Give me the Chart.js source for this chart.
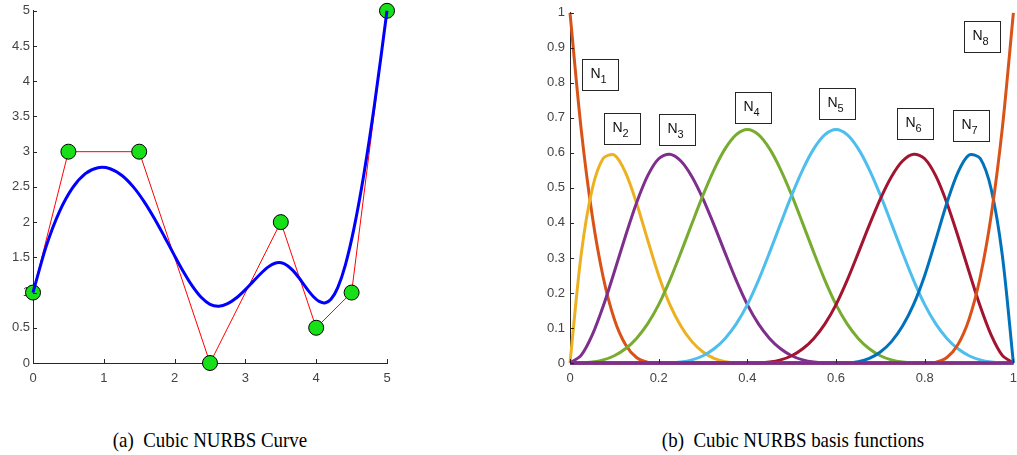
<!DOCTYPE html>
<html>
<head>
<meta charset="utf-8">
<script src="https://cdn.jsdelivr.net/npm/chart.js@4.4.0/dist/chart.umd.min.js"></script>
<style>
  html, body { margin: 0; padding: 0; width: 1017px; height: 455px; overflow: hidden; background: #fff; }
  canvas { position: absolute; top: 0; }
  .caption { position: absolute; top: 429px; font-family: "Liberation Serif", serif; font-size: 22px; line-height: 1; color: #000; white-space: nowrap; transform: translateX(-50%) scaleX(0.86); }
</style>
</head>
<body>
<canvas id="curve" width="420" height="400" style="left:0"></canvas>
<canvas id="basis" width="505" height="400" style="left:520px"></canvas>
<div class="caption" style="left:210px">(a)&nbsp; Cubic NURBS Curve</div>
<div class="caption" style="left:793px">(b)&nbsp; Cubic NURBS basis functions</div>
<script>
// control polygon
const ctrlX = [0, 0.5, 1.5, 2.5, 3.5, 4, 4.5, 5];
const ctrlY = [1, 3, 3, 0, 2, 0.5, 1, 5];

// NURBS curve samples
const curveX = [0, 0.1872, 0.3737, 0.5582, 0.7395, 0.9171, 1.0898, 1.2568, 1.4167, 1.5691, 1.7148,
  1.8547, 1.9896, 2.1206, 2.2487, 2.3749, 2.5, 2.6248, 2.7487, 2.8706, 2.9896, 3.1047, 3.2149, 3.3193,
  3.417, 3.5067, 3.5905, 3.6694, 3.7448, 3.8183, 3.8913, 3.9653, 4.0417, 4.1224, 4.2086, 4.3042,
  4.4115, 4.532, 4.6687, 4.8234, 5];
const curveY = [1, 1.659, 2.1484, 2.4854, 2.6876, 2.7722, 2.7576, 2.6612, 2.5, 2.2917, 2.0521,
  1.7969, 1.5416, 1.3021, 1.0937, 0.9323, 0.8334, 0.8073, 0.8424, 0.9227, 1.0312, 1.1516, 1.267, 1.3608,
  1.4168, 1.4224, 1.3848, 1.3149, 1.2241, 1.1233, 1.0241, 0.9376, 0.8751, 0.8524, 0.9041, 1.0704,
  1.3906, 1.9039, 2.6505, 3.669, 5];

// basis functions, sampled at u
const u = [0, 0.025, 0.05, 0.075, 0.1, 0.125, 0.15, 0.175, 0.2, 0.225, 0.25, 0.275, 0.3, 0.325, 0.35,
  0.375, 0.4, 0.425, 0.45, 0.475, 0.5, 0.525, 0.55, 0.575, 0.6, 0.625, 0.65, 0.675, 0.7, 0.725, 0.75,
  0.775, 0.8, 0.825, 0.85, 0.875, 0.9, 0.925, 0.95, 0.975, 1];
const N1 = [1, 0.6699, 0.4219, 0.2441, 0.125, 0.0527, 0.0156, 0.002, 0, 0, 0, 0, 0, 0, 0, 0, 0, 0, 0, 0,
  0, 0, 0, 0, 0, 0, 0, 0, 0, 0, 0, 0, 0, 0, 0, 0, 0, 0, 0, 0, 0];
const N2 = [0, 0.3081, 0.4961, 0.5845, 0.5938, 0.5444, 0.457, 0.3521, 0.25, 0.1675, 0.1055, 0.061,
  0.0313, 0.0132, 0.0039, 0.0005, 0, 0, 0, 0, 0, 0, 0, 0, 0, 0, 0, 0, 0, 0, 0, 0, 0, 0, 0, 0, 0, 0, 0, 0, 0];
const N3 = [0, 0.0216, 0.0794, 0.1626, 0.2604, 0.3621, 0.457, 0.5343, 0.5833, 0.5962, 0.5768, 0.5321,
  0.4688, 0.3937, 0.3138, 0.2358, 0.1667, 0.1117, 0.0703, 0.0407, 0.0208, 0.0088, 0.0026, 0.0003, 0,
  0, 0, 0, 0, 0, 0, 0, 0, 0, 0, 0, 0, 0, 0, 0, 0];
const N4 = [0, 0.0003, 0.0026, 0.0088, 0.0208, 0.0407, 0.0703, 0.1117, 0.1667, 0.236, 0.3151, 0.3981,
  0.4792, 0.5524, 0.612, 0.652, 0.6667, 0.652, 0.612, 0.5524, 0.4792, 0.3981, 0.3151, 0.236, 0.1667,
  0.1117, 0.0703, 0.0407, 0.0208, 0.0088, 0.0026, 0.0003, 0, 0, 0, 0, 0, 0, 0, 0, 0];
const N5 = [0, 0, 0, 0, 0, 0, 0, 0, 0, 0.0003, 0.0026, 0.0088, 0.0208, 0.0407, 0.0703, 0.1117, 0.1667,
  0.236, 0.3151, 0.3981, 0.4792, 0.5524, 0.612, 0.652, 0.6667, 0.652, 0.612, 0.5524, 0.4792, 0.3981,
  0.3151, 0.236, 0.1667, 0.1117, 0.0703, 0.0407, 0.0208, 0.0088, 0.0026, 0.0003, 0];
const N6 = [0, 0, 0, 0, 0, 0, 0, 0, 0, 0, 0, 0, 0, 0, 0, 0, 0, 0.0003, 0.0026, 0.0088, 0.0208, 0.0407,
  0.0703, 0.1117, 0.1667, 0.2358, 0.3138, 0.3937, 0.4688, 0.5321, 0.5768, 0.5962, 0.5833, 0.5343,
  0.457, 0.3621, 0.2604, 0.1626, 0.0794, 0.0216, 0];
const N7 = [0, 0, 0, 0, 0, 0, 0, 0, 0, 0, 0, 0, 0, 0, 0, 0, 0, 0, 0, 0, 0, 0, 0, 0, 0, 0.0005, 0.0039,
  0.0132, 0.0313, 0.061, 0.1055, 0.1675, 0.25, 0.3521, 0.457, 0.5444, 0.5938, 0.5845, 0.4961, 0.3081, 0];
const N8 = [0, 0, 0, 0, 0, 0, 0, 0, 0, 0, 0, 0, 0, 0, 0, 0, 0, 0, 0, 0, 0, 0, 0, 0, 0, 0, 0, 0, 0, 0,
  0, 0, 0, 0.002, 0.0156, 0.0527, 0.125, 0.2441, 0.4219, 0.6699, 1];
const zeroLine = [0, 0];

const basisNames = ['1', '2', '3', '4', '5', '6', '7', '8'];
// label box centres, data units
const labelU = [0.0676, 0.1167, 0.2406, 0.4136, 0.6033, 0.7775, 0.9047, 0.9288];
const labelV = [0.824, 0.672, 0.668, 0.730, 0.742, 0.685, 0.679, 0.934];

// tick values
const curveXTicks = [0, 1, 2, 3, 4, 5];
const curveYTicks = [0, 0.5, 1, 1.5, 2, 2.5, 3, 3.5, 4, 4.5, 5];
const basisXTicks = [0, 0.2, 0.4, 0.6, 0.8, 1];
const basisYTicks = [0, 0.1, 0.2, 0.3, 0.4, 0.5, 0.6, 0.7, 0.8, 0.9, 1];

const colors = ['#D95319', '#EDB120', '#7E2F8E', '#77AC30', '#4DBEEE', '#A2142F', '#0072BD', '#D95319'];
const axisColor = '#262626';
const labelColor = '#444';
const tickFont = { family: 'Liberation Sans, Arial, sans-serif', size: 13 };

const pts = (xs, ys) => xs.map((x, i) => ({ x: x, y: ys[i] }));

// matlab-ish ticks pointing into the plot
const inwardTicks = {
  id: 'inwardTicks',
  afterDatasetsDraw(chart) {
    const ctx = chart.ctx, a = chart.chartArea;
    const xs = chart.scales.x, ys = chart.scales.y;
    ctx.save();
    ctx.strokeStyle = axisColor;
    ctx.lineWidth = 1;
    ctx.beginPath();
    xs.ticks.forEach(t => {
      const p = Math.round(xs.getPixelForValue(t.value)) + 0.5;
      ctx.moveTo(p, a.bottom);
      ctx.lineTo(p, a.bottom - 4);
    });
    ys.ticks.forEach(t => {
      const p = Math.round(ys.getPixelForValue(t.value)) + 0.5;
      ctx.moveTo(a.left, p);
      ctx.lineTo(a.left + 4, p);
    });
    ctx.stroke();
    ctx.restore();
  }
};

const labelBoxes = {
  id: 'labelBoxes',
  afterDatasetsDraw(chart) {
    const ctx = chart.ctx;
    const xs = chart.scales.x, ys = chart.scales.y;
    ctx.save();
    basisNames.forEach((n, i) => {
      const cx = xs.getPixelForValue(labelU[i]);
      const cy = ys.getPixelForValue(labelV[i]);
      const l = Math.round(cx - 18) + 0.5, t = Math.round(cy - 15) + 0.5;
      ctx.fillStyle = '#fff';
      ctx.fillRect(l, t, 36, 31);
      ctx.strokeStyle = axisColor;
      ctx.lineWidth = 1;
      ctx.strokeRect(l, t, 36, 31);
      ctx.fillStyle = '#111';
      ctx.textBaseline = 'alphabetic';
      ctx.font = '14px "Liberation Sans", Arial, sans-serif';
      ctx.fillText('N', l + 8, t + 18);
      ctx.font = '11px "Liberation Sans", Arial, sans-serif';
      ctx.fillText(n, l + 18, t + 23);
    });
    ctx.restore();
  }
};

function axis(min, max, ticks, fitKey, fitVal, pad) {
  return {
    type: 'linear',
    min: min,
    max: max,
    afterBuildTicks: s => { s.ticks = ticks.map(v => ({ value: v })); },
    afterFit: s => { s[fitKey] = fitVal; },
    grid: { display: true, drawOnChartArea: false, drawTicks: false },
    border: { display: true, color: axisColor, width: 1 },
    ticks: {
      color: labelColor, font: tickFont, padding: pad, maxRotation: 0, autoSkip: false,
      callback: v => String(v)
    }
  };
}

Chart.defaults.animation = false;
Chart.defaults.responsive = false;

new Chart(document.getElementById('curve'), {
  type: 'scatter',
  data: {
    datasets: [
      {
        label: 'curve',
        data: pts(curveX, curveY),
        showLine: true,
        borderColor: '#0000ff',
        borderWidth: 3,
        pointRadius: 0,
        tension: 0.3
      },
      {
        label: 'control polygon',
        data: pts(ctrlX, ctrlY),
        showLine: true,
        borderColor: '#ff0000',
        borderWidth: 1,
        pointRadius: 7.5,
        pointBackgroundColor: '#18e018',
        pointBorderColor: '#000',
        pointBorderWidth: 1
      }
    ]
  },
  options: {
    layout: { padding: { top: 10, right: 33, bottom: 0, left: 0 } },
    clip: false,
    plugins: { legend: { display: false }, tooltip: { enabled: false } },
    scales: {
      x: axis(0, 5, curveXTicks, 'height', 37, 8),
      y: axis(0, 5, curveYTicks, 'width', 33, 3)
    }
  },
  plugins: [inwardTicks]
});

const basisSets = [N1, N2, N3, N4, N5, N6, N7, N8].map((vals, i) => ({
  label: 'N' + basisNames[i],
  data: pts(u, vals),
  showLine: true,
  borderColor: colors[i],
  borderWidth: 3,
  pointRadius: 0,
  tension: 0.3,
  order: 10 - i
}));
basisSets.push({
  label: 'zero',
  data: pts([0, 1], zeroLine),
  showLine: true,
  borderColor: '#7E2F8E',
  borderWidth: 3.5,
  pointRadius: 0,
  order: 0
});

new Chart(document.getElementById('basis'), {
  type: 'scatter',
  data: { datasets: basisSets },
  options: {
    layout: { padding: { top: 12, right: 5, bottom: 0, left: 0 } },
    clip: false,
    plugins: { legend: { display: false }, tooltip: { enabled: false } },
    scales: {
      x: axis(0, 1, basisXTicks, 'height', 37, 8),
      y: axis(0, 1, basisYTicks, 'width', 50, 5)
    }
  },
  plugins: [inwardTicks, labelBoxes]
});
</script>
</body>
</html>
